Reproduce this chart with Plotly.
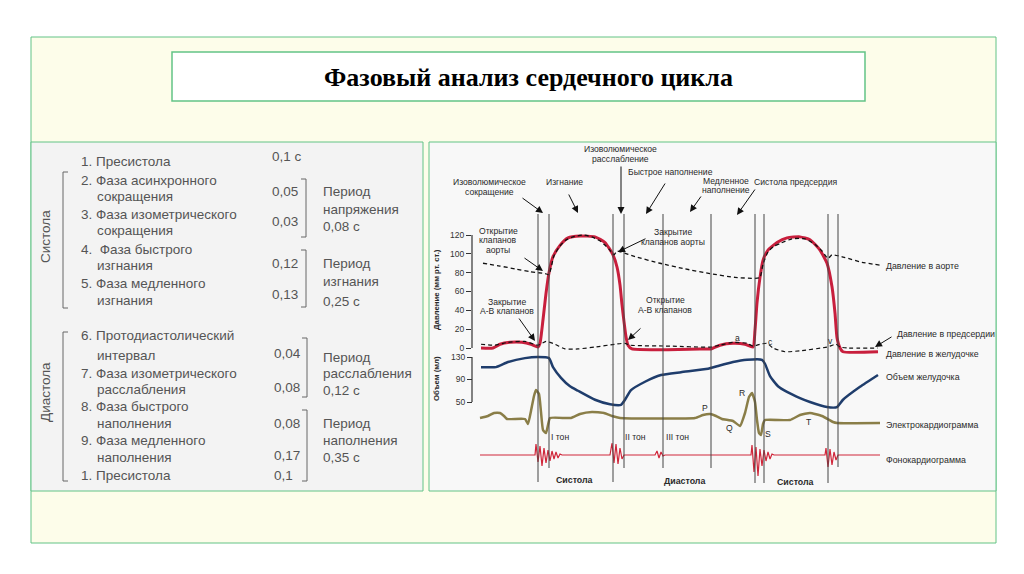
import plotly.graph_objects as go

W, H = 1024, 574

# ---------------- data ----------------
# time in ms (one cardiac cycle ~ 868 ms), pressures in mmHg
event_times = [232, 276, 532, 576, 732, 924, 1100, 1136, 1392, 1432]

lv_t = [4, 52, 80, 120, 168, 204, 232, 240, 252, 264, 276, 292, 320, 352, 400, 460, 500, 532,
        548, 560, 568, 576, 584, 592, 608, 880, 924, 960, 1012, 1060, 1092, 1100, 1108, 1120,
        1132, 1152, 1188, 1228, 1280, 1320, 1360, 1388, 1408, 1420, 1428, 1440, 1452, 1592]
lv_p = [0, 0, 4, 6, 6, 4, 1, 5, 30, 58, 80, 97, 109, 117, 119, 118, 112, 99,
        86, 67, 46, 28, 12, 3, -1, -1, -1, 3, 5, 4, 1, 19, 48, 75,
        93, 104, 112, 117, 118, 115, 104, 90, 65, 37, 11, 0, -4, -4]

ao_t = [12, 80, 140, 200, 260, 276, 284, 296, 316, 340, 372, 412, 448, 484, 516, 536, 548, 564,
        620, 720, 820, 920, 1020, 1100, 1120, 1132, 1152, 1176, 1200, 1248, 1300, 1340, 1368,
        1392, 1408, 1460, 1528, 1600]
ao_p = [90, 87, 84, 81, 79, 78, 85, 98, 107, 114, 118, 120, 118, 113, 105, 99, 103, 102,
        97, 90, 84, 79, 75, 74, 75, 89, 102, 108, 111, 116, 116, 110, 103,
        95, 99, 96, 91, 88]

la_t = [4, 60, 112, 180, 232, 264, 300, 340, 392, 460, 540, 580, 600, 760, 920, 960, 1012, 1068,
        1092, 1120, 1148, 1172, 1220, 1280, 1388, 1424, 1440, 1468, 1592]
la_p = [4, 3, 6, 7, 3, 7, 4, -1, -1, 1, 4, 5, 3, 2, 1, 3, 6, 5,
        2, 4, 5, 0, -4, -3, 1, 4, 1, 0, 0]

vol_t = [4, 64, 112, 180, 232, 276, 292, 324, 360, 392, 460, 520, 564, 580, 604, 660, 724, 804,
         912, 952, 1012, 1068, 1128, 1140, 1160, 1192, 1228, 1280, 1320, 1388, 1428, 1452, 1520,
         1592]
vol_v = [112, 112, 121, 128, 130, 128, 112, 93, 78, 70, 54, 46, 45, 54, 71, 86, 98, 103,
         109, 114, 121, 125, 125, 118, 96, 78, 68, 57, 50, 41, 41, 54, 77,
         98]

ecg_t = [0, 32, 56, 80, 96, 108, 180, 192, 204, 216, 224, 236, 244, 252, 264, 272, 280, 364,
         400, 448, 496, 528, 560, 860, 892, 920, 944, 968, 1012, 1040, 1060, 1076, 1088, 1100,
         1108, 1116, 1124, 1132, 1140, 1240, 1280, 1320, 1368, 1412, 1428, 1600]
ecg_mv = [0, 0.1, 0.25, 0.25, 0.1, -0.05, -0.05, -0.3, 0.35, 1.1, 1.4, 1.2, 0.3, -0.6, -0.75, -0.35, 0, 0,
          0.2, 0.3, 0.25, 0.1, 0, 0, 0.15, 0.2, 0.1, -0.05, -0.15, -0.4, 0.25, 1.05, 1.25, 0.8,
          -0.1, -0.75, -0.85, -0.3, -0.1, -0.1, 0.15, 0.25, 0.1, -0.2, -0.25, -0.25]

pcg_t = [0, 220, 224, 232, 240, 248, 256, 264, 272, 280, 288, 296, 304, 312, 320, 328,
         520, 528, 536, 544, 552, 560, 568, 576,
         700, 708, 716, 724, 732, 740,
         1084, 1088, 1096, 1104, 1112, 1120, 1128, 1136, 1144, 1152, 1160, 1168, 1176,
         1380, 1384, 1392, 1400, 1408, 1416, 1424, 1432, 1600]
pcg_a = [0, 0, 1.1, -0.7, 0.9, -1.1, 0.7, -0.8, 0.5, -0.6, 0.4, -0.4, 0.3, -0.3, 0.1, 0,
         0, 1.2, -0.8, 1.1, -0.9, 0.7, -0.4, 0,
         0, 0.4, -0.3, 0.3, -0.1, 0,
         0, 1.0, -1.7, 0.8, -2.1, 0.6, -1.1, 0.5, -0.6, 0.3, -0.4, 0.1, 0,
         0, 0.7, -1.2, 0.6, -1.0, 0.3, -0.5, 0, 0]

pressure_ticks = [0, 20, 40, 60, 80, 100, 120]
volume_ticks = [50, 90, 130]

title_text = "Фазовый анализ сердечного цикла"

sys_phases = ["1. Пресистола", "2. Фаза асинхронного", "сокращения", "3. Фаза изометрического",
              "сокращения", "4.  Фаза быстрого", "изгнания", "5. Фаза медленного", "изгнания"]
sys_durations = ["0,1 с", "0,05", "0,03", "0,12", "0,13"]
sys_periods = ["Период", "напряжения", "0,08 с", "Период", "изгнания", "0,25 с"]
dia_phases = ["6. Протодиастолический", "интервал", "7. Фаза изометрического", "расслабления",
              "8. Фаза быстрого", "наполнения", "9. Фаза медленного", "наполнения", "1. Пресистола"]
dia_durations = ["0,04", "0,08", "0,08", "0,17", "0,1"]
dia_periods = ["Период", "расслабления", "0,12 с", "Период", "наполнения", "0,35 с"]

# ---------------- layout helpers ----------------
def X(px):
    return px / W

def Y(py):
    return 1 - py / H

TOP, BOT = 140, 500
XL, XR = 472, 890

def yrange(v0, p0, v1, p1):
    k = (p1 - p0) / (v1 - v0)
    return [v0 + (BOT - p0) / k, v0 + (TOP - p0) / k]

fig = go.Figure()

RED = '#c81f3d'
fig.add_trace(go.Scatter(x=lv_t, y=lv_p, mode='lines', yaxis='y',
                         line=dict(color=RED, width=3, shape='spline', smoothing=0.5)))
fig.add_trace(go.Scatter(x=ao_t, y=ao_p, mode='lines', yaxis='y',
                         line=dict(color='#111', width=1.3, dash='4px,3px', shape='spline', smoothing=0.5)))
fig.add_trace(go.Scatter(x=la_t, y=la_p, mode='lines', yaxis='y',
                         line=dict(color='#111', width=1.2, dash='4px,3px', shape='spline', smoothing=0.5)))
fig.add_trace(go.Scatter(x=vol_t, y=vol_v, mode='lines', yaxis='y2',
                         line=dict(color='#1f3d6c', width=2.5, shape='spline', smoothing=0.5)))
fig.add_trace(go.Scatter(x=ecg_t, y=ecg_mv, mode='lines', yaxis='y3',
                         line=dict(color='#8a7e48', width=2.5, shape='spline', smoothing=0.4)))
fig.add_trace(go.Scatter(x=pcg_t, y=pcg_a, mode='lines', yaxis='y4',
                         line=dict(color='#d0263a', width=1.2)))
for tr in fig.data:
    tr.update(hoverinfo='skip', showlegend=False)

GREEN = '#63c386'
shapes = [
    dict(type='rect', xref='paper', yref='paper', x0=X(31), x1=X(996), y0=Y(543), y1=Y(37),
         fillcolor='#fdfdea', line=dict(color=GREEN, width=1), layer='below'),
    dict(type='rect', xref='paper', yref='paper', x0=X(172), x1=X(865), y0=Y(101), y1=Y(52),
         fillcolor='#ffffff', line=dict(color=GREEN, width=1.5), layer='below'),
    dict(type='rect', xref='paper', yref='paper', x0=X(31), x1=X(423), y0=Y(491), y1=Y(142),
         fillcolor='#f3f3f3', line=dict(color=GREEN, width=1), layer='below'),
    dict(type='rect', xref='paper', yref='paper', x0=X(429), x1=X(996), y0=Y(491), y1=Y(142),
         fillcolor='#f8f8f8', line=dict(color=GREEN, width=1), layer='below'),
]

# event vertical lines
line_bottoms = [482, 468, 482, 468, 468, 468, 483, 483, 483, 467]
for t, b in zip(event_times, line_bottoms):
    shapes.append(dict(type='line', xref='x', yref='paper', x0=t, x1=t, y0=Y(b), y1=Y(214),
                       line=dict(color='#444', width=1)))

# axis lines
shapes.append(dict(type='line', xref='paper', yref='y', x0=X(XL), x1=X(XL), y0=0, y1=120,
                   line=dict(color='#333', width=1.2)))
shapes.append(dict(type='line', xref='paper', yref='y2', x0=X(XL), x1=X(XL), y0=50, y1=130,
                   line=dict(color='#333', width=1.2)))

# table brackets
BR = '#666'
def lbracket(x, y0, y1):
    return dict(type='path', xref='paper', yref='paper',
                path=f"M {X(x+5)},{Y(y0)} L {X(x)},{Y(y0)} L {X(x)},{Y(y1)} L {X(x+5)},{Y(y1)}",
                line=dict(color=BR, width=1))
def rbracket(x, y0, y1):
    return dict(type='path', xref='paper', yref='paper',
                path=f"M {X(x-5)},{Y(y0)} L {X(x)},{Y(y0)} L {X(x)},{Y(y1)} L {X(x-5)},{Y(y1)}",
                line=dict(color=BR, width=1))
shapes += [lbracket(63, 172, 308), lbracket(63, 332, 481),
           rbracket(306, 179, 237), rbracket(306, 250, 307),
           rbracket(307, 338, 397), rbracket(307, 410, 481)]

ann = []
def txt(s, px, py, size=8.6, color='#2a2a2a', xanchor='center', bold=False, angle=0,
        family='Liberation Sans'):
    ann.append(dict(text=f"<b>{s}</b>" if bold else s, x=X(px), y=Y(py), xref='paper', yref='paper',
                    showarrow=False, xanchor=xanchor, yanchor='middle', textangle=angle,
                    font=dict(size=size, color=color, family=family)))

def arrow(tip, tail):
    ann.append(dict(text='', x=X(tip[0]), y=Y(tip[1]), xref='paper', yref='paper',
                    ax=tail[0] - tip[0], ay=tail[1] - tip[1], showarrow=True,
                    arrowhead=2, arrowsize=1.4, arrowwidth=1, arrowcolor='#111'))

# title
txt(title_text, 528, 77, size=26, color='#000', bold=True, family='Liberation Serif')

# table text
TC = '#555555'
FS = 13.5
sys_y = [161, 180, 196, 214, 230, 249, 265, 283, 300]
sys_indent = [0, 0, 1, 0, 1, 0, 1, 0, 1]
for s, y, ind in zip(sys_phases, sys_y, sys_indent):
    txt(s, 95 if ind else 79, y, size=FS, color=TC, xanchor='left')
for s, y in zip(sys_durations, [156, 191, 221, 263, 294]):
    txt(s, 270, y, size=FS, color=TC, xanchor='left')
for s, y in zip(sys_periods, [191, 209, 226, 263, 281, 301]):
    txt(s, 321, y, size=FS, color=TC, xanchor='left')
dia_y = [335, 355, 373, 389, 407, 423, 440, 457, 475]
dia_indent = [0, 1, 0, 1, 0, 1, 0, 1, 0]
for s, y, ind in zip(dia_phases, dia_y, dia_indent):
    txt(s, 95 if ind else 79, y, size=FS, color=TC, xanchor='left')
for s, y in zip(dia_durations, [353, 387, 423, 455, 475]):
    txt(s, 272, y, size=FS, color=TC, xanchor='left')
for s, y in zip(dia_periods, [357, 373, 390, 423, 440, 457]):
    txt(s, 321, y, size=FS, color=TC, xanchor='left')
txt("Систола", 45, 237, size=FS, color=TC, angle=-90)
txt("Диастола", 45, 392, size=FS, color=TC, angle=-90)

# chart labels
for s, x, y in [("Изоволюмическое", 620, 149), ("расслабление", 620, 159),
                ("Изоволюмическое", 489, 182), ("сокращение", 489, 192),
                ("Изгнание", 564, 182), ("Быстрое наполнение", 670, 172),
                ("Медленное", 726, 181), ("наполнение", 726, 190),
                ("Систола предсердия", 795, 182),
                ("Открытие", 498, 231), ("клапанов", 498, 240), ("аорты", 498, 250),
                ("Закрытие", 507, 302), ("А-В клапанов", 507, 311),
                ("Закрытие", 673, 232), ("клапанов аорты", 673, 242),
                ("Открытие", 665, 300), ("А-В клапанов", 665, 310),
                ("a", 737, 338), ("c", 770, 342), ("v", 830, 341),
                ("P", 705, 408), ("Q", 729, 428), ("R", 742, 393), ("S", 768, 434), ("T", 809, 422),
                ("I тон", 560, 437), ("II тон", 635, 437), ("III тон", 677, 437)]:
    txt(s, x, y)
for s, x, y in [("Давление в аорте", 884, 266), ("Давление в предсердии", 895, 334),
                ("Давление в желудочке", 884, 354), ("Объем желудочка", 884, 377),
                ("Электрокардиограмма", 884, 425), ("Фонокардиограмма", 884, 460)]:
    txt(s, x, y, size=8.8, xanchor='left')
txt("Систола", 574, 480, size=8.8, bold=True)
txt("Диастола", 684, 481, size=8.8, bold=True)
txt("Систола", 795, 482, size=8.8, bold=True)
txt("Давление (мм рт. ст.)", 436, 290, size=7.8, bold=True, angle=-90)
txt("Объем (мл)", 436, 379, size=7.8, bold=True, angle=-90)

for tip, tail in [((543, 213), (521, 197)), ((578, 213), (568, 193)), ((621, 214), (621, 165)),
                  ((646, 214), (666, 182)), ((690, 212), (702, 195)), ((737, 215), (756, 188)),
                  ((543, 271), (523, 257)), ((535, 341), (518, 317)), ((618, 252), (647, 238)),
                  ((628, 340), (642, 327)), ((875, 347), (893, 336))]:
    arrow(tip, tail)

ax_common = dict(showgrid=False, zeroline=False, showline=False)
fig.update_layout(
    width=W, height=H, autosize=False,
    margin=dict(l=0, r=0, t=0, b=0, pad=0),
    paper_bgcolor='#ffffff', plot_bgcolor='rgba(0,0,0,0)',
    xaxis=dict(domain=[X(XL), X(XR)], range=[(XL - 480) * 4, (XR - 480) * 4], visible=False, **ax_common),
    yaxis=dict(domain=[Y(BOT), Y(TOP)], range=yrange(0, 348, 120, 235), tickvals=pressure_ticks,
               ticks='outside', ticklen=5, tickcolor='#333', tickwidth=1,
               tickfont=dict(size=8.5, color='#333', family='Liberation Sans'), **ax_common),
    yaxis2=dict(domain=[Y(BOT), Y(TOP)], range=yrange(130, 357, 50, 402), tickvals=volume_ticks,
                overlaying='y', anchor='free', position=X(XL), side='left',
                ticks='outside', ticklen=5, tickcolor='#333', tickwidth=1,
                tickfont=dict(size=8.5, color='#333', family='Liberation Sans'), **ax_common),
    yaxis3=dict(domain=[Y(BOT), Y(TOP)], range=yrange(0, 418, 1, 398), overlaying='y',
                visible=False, **ax_common),
    yaxis4=dict(domain=[Y(BOT), Y(TOP)], range=yrange(0, 455, 1, 445), overlaying='y',
                visible=False, **ax_common),
    shapes=shapes, annotations=ann, showlegend=False,
)

fig.write_html("out.html", config={'displayModeBar': False},
               post_script="document.body.style.margin='0px';document.body.style.overflow='hidden';")
